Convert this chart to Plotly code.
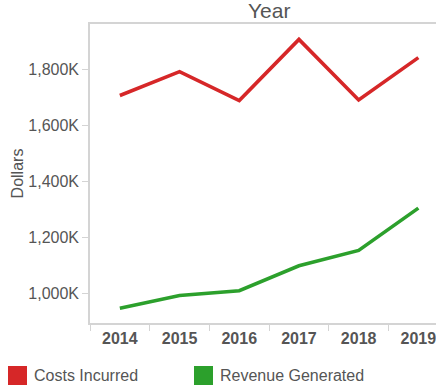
import plotly.graph_objects as go

years = ["2014", "2015", "2016", "2017", "2018", "2019"]
costs_k = [1707, 1792, 1689, 1907, 1691, 1842]
revenue_k = [948, 993, 1010, 1099, 1154, 1305]
series_names = ["Costs Incurred", "Revenue Generated"]
series_colors = ["#d62728", "#2ca02c"]
y_tickvals = [1000, 1200, 1400, 1600, 1800]
y_ticktext = ["1,000K", "1,200K", "1,400K", "1,600K", "1,800K"]

W, H = 436, 386
ml, mt, mb = 90, 24, 63
band = 59.7
n_vis = (W - ml) / band
TXT = "#555555"

fig = go.Figure()
for name, vals, col in zip(series_names, [costs_k, revenue_k], series_colors):
    fig.add_trace(go.Scatter(x=years, y=vals, mode="lines", name=name,
                             line=dict(color=col, width=3.6), showlegend=False))

fig.update_layout(
    width=W, height=H,
    margin=dict(l=ml, r=0, t=mt, b=mb),
    plot_bgcolor="white", paper_bgcolor="white",
    font=dict(family="Liberation Sans, Arial, sans-serif", color=TXT),
    xaxis=dict(type="category", range=[-0.5, -0.5 + n_vis],
               showgrid=False, zeroline=False,
               showline=True, linecolor="#d4d4d4", linewidth=1.5, mirror=True,
               ticks="outside", tickson="boundaries", ticklen=6, tickcolor="#d4d4d4",
               tickfont=dict(size=16, color=TXT, weight="bold")),
    yaxis=dict(range=[895, 1962], tickmode="array", tickvals=y_tickvals, ticktext=y_ticktext,
               showgrid=False, zeroline=False,
               showline=True, linecolor="#d4d4d4", linewidth=1.5,
               ticks="outside", ticklen=6, tickcolor="#d4d4d4",
               tickfont=dict(size=16, color=TXT),
               title=dict(text="Dollars", font=dict(size=16, color=TXT), standoff=1)),
)

plot_w = W - ml
plot_h = H - mt - mb
full_w = band * 6
fig.add_annotation(text="Year", xref="paper", yref="paper",
                   x=(full_w / 2) / plot_w, y=1, yanchor="bottom", xanchor="center",
                   showarrow=False, yshift=0, font=dict(size=21, color=TXT))

# Custom legend
legend_x = [8, 194]
for name, col, lx in zip(series_names, series_colors, legend_x):
    x0 = (lx - ml) / plot_w
    x1 = (lx + 19 - ml) / plot_w
    y0p = -(385 - (H - mb)) / plot_h
    y1p = -(366 - (H - mb)) / plot_h
    fig.add_shape(type="rect", xref="paper", yref="paper", x0=x0, x1=x1, y0=y0p, y1=y1p,
                  fillcolor=col, line=dict(width=0))
    fig.add_annotation(text=name, xref="paper", yref="paper",
                       x=(lx + 24 - ml) / plot_w, y=(y0p + y1p) / 2,
                       xanchor="left", yanchor="middle", showarrow=False,
                       font=dict(size=16, color=TXT))

fig.write_html("out.html", config={"displayModeBar": False},
               post_script="document.body.style.margin='0px';")
